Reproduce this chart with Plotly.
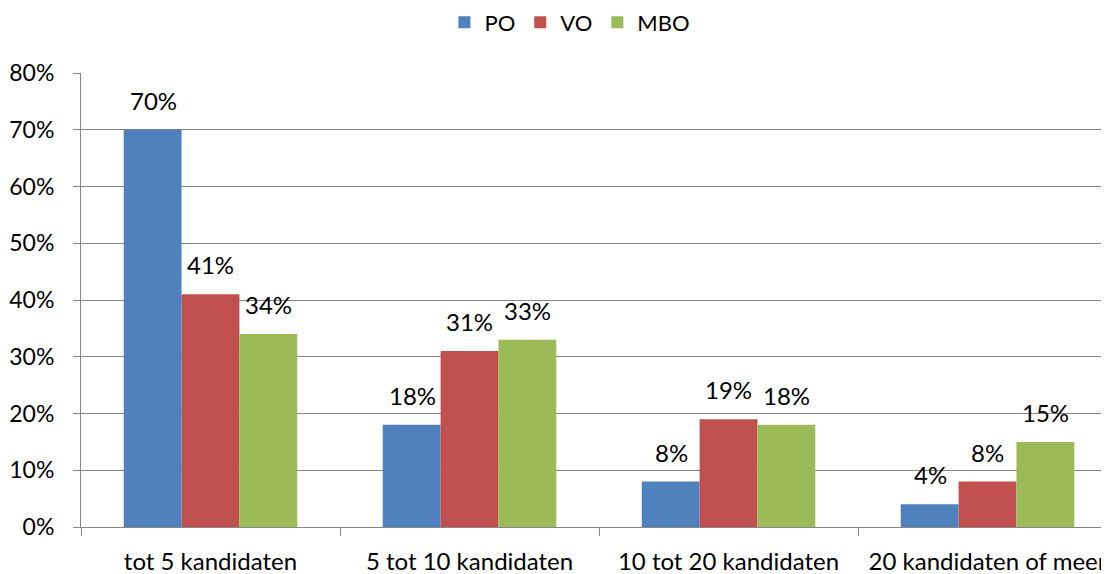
import plotly.graph_objects as go

categories = ["tot 5 kandidaten", "5 tot 10 kandidaten", "10 tot 20 kandidaten", "20 kandidaten of meer"]
po = [70, 18, 8, 4]
vo = [41, 31, 19, 8]
mbo = [34, 33, 18, 15]
y_ticks = [0, 10, 20, 30, 40, 50, 60, 70, 80]

_C = {"PO": "#4F81BD", "VO": "#C0504D", "MBO": "#9BBB59", "grid": "#868686"}
FONT = "Lato, 'Open Sans', sans-serif"
SIZE = 24
BAR_PX = 57.5  # approx width of one bar in pixels, for label offsets

fig = go.Figure()
series = [("PO", po), ("VO", vo), ("MBO", mbo)]
for i, (name, vals) in enumerate(series):
    fig.add_trace(go.Bar(
        x=categories, y=vals, name=name,
        marker=dict(color=_C[name], line=dict(width=0)),
    ))
    # data labels a bit above the bar tops
    for cat, v in zip(categories, vals):
        fig.add_annotation(
            x=cat, y=v, text=f"{v}%", showarrow=False,
            xanchor="center", yanchor="bottom",
            xshift=(i - 1) * BAR_PX, yshift=13,
            font=dict(size=SIZE, color="#000000", family=FONT),
        )

# page body has an 8px margin, so the figure is a bit smaller than the window
fig.update_layout(
    width=1101, height=566,
    barmode="group", bargap=0.33, bargroupgap=0,
    plot_bgcolor="white", paper_bgcolor="white",
    margin=dict(l=73, r=0, t=65, b=47, autoexpand=False),
    font=dict(family=FONT, size=SIZE, color="#000000"),
    legend=dict(orientation="h", x=0.4756, xanchor="center", y=1.1115, yanchor="middle",
                font=dict(size=22), itemwidth=30, traceorder="normal"),
    xaxis=dict(
        range=[-0.5, 3.469], automargin=False,
        showline=True, linecolor=_C["grid"], linewidth=1,
        ticks="outside", ticklen=8, tickcolor=_C["grid"], tickson="boundaries",
        tickfont=dict(size=SIZE), showgrid=False, ticklabelstandoff=13,
    ),
    yaxis=dict(
        range=[0, 80], tickvals=y_ticks, ticktext=[f"{t}%" for t in y_ticks],
        automargin=False,
        showline=True, linecolor=_C["grid"], linewidth=1,
        showgrid=True, gridcolor=_C["grid"], gridwidth=1,
        ticks="outside", ticklen=7, tickcolor=_C["grid"],
        tickfont=dict(size=23), zeroline=False, ticklabelstandoff=14,
    ),
)

fig.write_html("out.html")
